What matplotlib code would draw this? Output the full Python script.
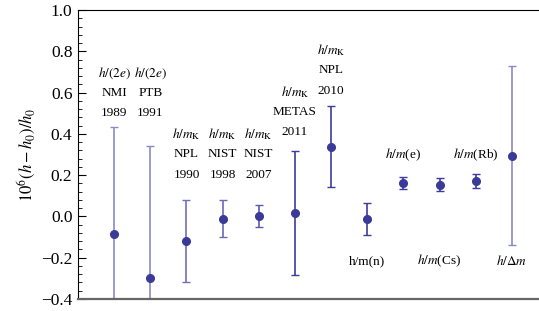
import matplotlib
matplotlib.use("Agg")
from matplotlib import pyplot as plt
from matplotlib.ticker import MultipleLocator

plt.rcParams['font.family'] = ['Liberation Serif', 'DejaVu Serif']
plt.rcParams['mathtext.fontset'] = 'stix'

# posiciones y valores medidos (10^6 (h-h0)/h0)
pos = [1, 2, 3, 4, 5, 6, 7, 8, 9, 10, 11, 12]
valor = [-0.087, -0.297, -0.118, -0.011, 0.003, 0.018, 0.338, -0.014, 0.162, 0.154, 0.173, 0.295]
error = [0.518, 0.640, 0.198, 0.090, 0.052, 0.300, 0.197, 0.078, 0.030, 0.030, 0.033, 0.435]
color_barra = ['#8a8acb', '#8a8acb', '#7070ba', '#6a6ab6', '#5a5aac', '#3c3c9c', '#3c3c9c',
               '#3c3c9c', '#3c3c9c', '#3c3c9c', '#3c3c9c', '#8a8acb']

# etiquetas arriba (tres lineas) y abajo
etiq_sup = [
    (1, [r'$h/(2e)$', 'NMI', '1989'], 0.696),
    (2, [r'$h/(2e)$', 'PTB', '1991'], 0.696),
    (3, [r'$h/m_\mathrm{K}$', 'NPL', '1990'], 0.399),
    (4, [r'$h/m_\mathrm{K}$', 'NIST', '1998'], 0.399),
    (5, [r'$h/m_\mathrm{K}$', 'NIST', '2007'], 0.399),
    (6, [r'$h/m_\mathrm{K}$', 'METAS', '2011'], 0.604),
    (7, [r'$h/m_\mathrm{K}$', 'NPL', '2010'], 0.806),
]
etiq_otros = [
    (9, r'$h/m$(e)', 0.297),
    (11, r'$h/m$(Rb)', 0.297),
    (8, 'h/m(n)', -0.215),
    (10, r'$h/m$(Cs)', -0.215),
    (12, r'$h/\Delta m$', -0.215),
]

fig = plt.figure(figsize=(5.39, 3.11), dpi=100)
ax = fig.add_axes([78/539, 12/311, 1 - 78/539, 289/311])

for x, y, e, c in zip(pos, valor, error, color_barra):
    ax.errorbar(x, y, yerr=e, fmt='none', ecolor=c, elinewidth=1.2, capsize=3, capthick=1.0)
ax.plot(pos, valor, 'o', color='#3a3a98', markersize=5.5, zorder=5)

for x, lineas, ytop in etiq_sup:
    for i, t in enumerate(lineas):
        ax.text(x, ytop - i * 0.098, t, ha='center', va='center', fontsize=9.5)
for x, t, y in etiq_otros:
    ax.text(x, y, t, ha='center', va='center', fontsize=9.5)

ax.set_xlim(0, 12.75)
ax.set_ylim(-0.4, 1.0)
ax.yaxis.set_minor_locator(MultipleLocator(0.04))
ax.set_yticks([-0.4, -0.2, 0.0, 0.2, 0.4, 0.6, 0.8, 1.0])
ax.set_yticklabels(['\u22120.4', '\u22120.2', '0.0', '0.2', '0.4', '0.6', '0.8', '1.0'])
ax.tick_params(axis='y', which='major', direction='in', length=6, width=0.8, labelsize=12.5, pad=4)
ax.tick_params(axis='y', which='minor', direction='in', length=3, width=0.6)
ax.set_xticks([])
ax.spines['right'].set_visible(False)
ax.spines['top'].set_linewidth(0.8)
ax.spines['left'].set_linewidth(0.8)
ax.spines['bottom'].set_color('#666666')
ax.spines['bottom'].set_linewidth(1.6)
ax.set_ylabel(r'$10^6(h-h_0)/h_0$', fontsize=12, labelpad=2)

fig.savefig('out.png', dpi=100)
